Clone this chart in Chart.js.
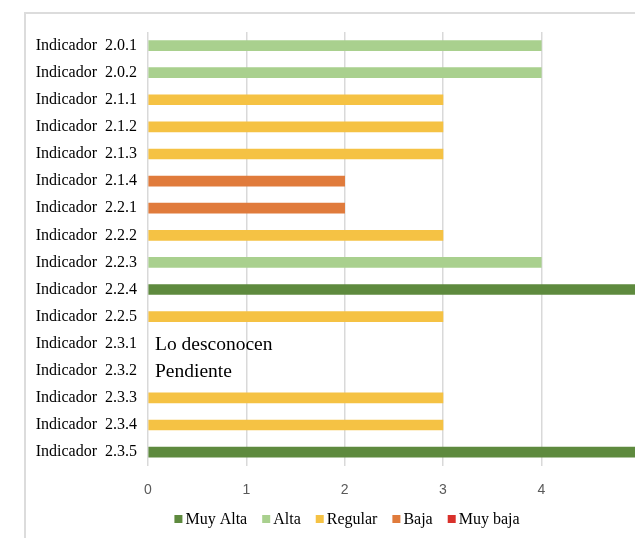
<!DOCTYPE html>
<html>
<head>
<meta charset="utf-8">
<script src="https://cdn.jsdelivr.net/npm/chart.js@4.4.0/dist/chart.umd.min.js"></script>
<style>
    html, body { margin: 0; padding: 0; background: #fff; overflow: hidden; }
    #wrap { position: relative; width: 635px; height: 538px; overflow: hidden; }
    /* marco gris de la tabla original */
    #frame {
        position: absolute; left: 24px; top: 12px; width: 640px; height: 560px;
        border-top: 2px solid #dcdcdc; border-left: 2px solid #dcdcdc;
    }
    #chart { position: absolute; left: 0; top: 0; }
</style>
</head>
<body>
<div id="wrap">
    <div id="frame"></div>
    <canvas id="chart" width="660" height="538"></canvas>
</div>
<script>
// Categorías (indicadores)
const categories = [
    'Indicador  2.0.1', 'Indicador  2.0.2', 'Indicador  2.1.1', 'Indicador  2.1.2',
    'Indicador  2.1.3', 'Indicador  2.1.4', 'Indicador  2.2.1', 'Indicador  2.2.2',
    'Indicador  2.2.3', 'Indicador  2.2.4', 'Indicador  2.2.5', 'Indicador  2.3.1',
    'Indicador  2.3.2', 'Indicador  2.3.3', 'Indicador  2.3.4', 'Indicador  2.3.5'
];

// Valores por nivel (null = sin barra en ese nivel)
const muyAlta  = [null, null, null, null, null, null, null, null, null, 5, null, null, null, null, null, 5];
const alta     = [4, 4, null, null, null, null, null, null, 4, null, null, null, null, null, null, null];
const regular  = [null, null, 3, 3, 3, null, null, 3, null, null, 3, null, null, 3, 3, null];
const baja     = [null, null, null, null, null, 2, 2, null, null, null, null, null, null, null, null, null];
const muyBaja  = [null, null, null, null, null, null, null, null, null, null, null, null, null, null, null, null];

// Etiquetas de eje X
const xTicks = [0, 1, 2, 3, 4, 5];

// Notas de texto sobre indicadores sin valor
const noteCategories = ['Indicador  2.3.1', 'Indicador  2.3.2'];
const noteTexts = ['Lo desconocen', 'Pendiente'];

const serif = '"Liberation Serif", "Times New Roman", serif';

// Plugin para escribir las notas en la fila correspondiente
const notesPlugin = {
    id: 'notes',
    afterDatasetsDraw(chart) {
        const ctx = chart.ctx;
        const x = chart.scales.x;
        const y = chart.scales.y;
        ctx.save();
        ctx.font = '19.5px ' + serif;
        ctx.fillStyle = '#000';
        ctx.textBaseline = 'middle';
        ctx.textAlign = 'left';
        noteCategories.forEach((cat, i) => {
            const idx = categories.indexOf(cat);
            ctx.fillText(noteTexts[i], x.getPixelForValue(0) + 7, y.getPixelForValue(idx) + 1.5);
        });
        ctx.restore();
    }
};

// Leyenda dibujada a mano (cuadro pegado al texto, como en el original)
const legendPlugin = {
    id: 'bottomLegend',
    afterDraw(chart) {
        const ctx = chart.ctx;
        const box = 8, gapText = 3, gapItem = 15;
        const centerX = 347, centerY = 519;
        ctx.save();
        ctx.font = '16px ' + serif;
        ctx.textBaseline = 'middle';
        ctx.textAlign = 'left';
        const sets = chart.data.datasets;
        const widths = sets.map(ds => ctx.measureText(ds.label).width);
        const total = widths.reduce((a, w) => a + box + gapText + w, 0) + gapItem * (sets.length - 1);
        let x = centerX - total / 2;
        sets.forEach((ds, i) => {
            ctx.fillStyle = ds.backgroundColor;
            ctx.fillRect(x, centerY - box / 2, box, box);
            ctx.fillStyle = '#000';
            ctx.fillText(ds.label, x + box + gapText, centerY + 0.5);
            x += box + gapText + widths[i] + gapItem;
        });
        ctx.restore();
    }
};

const makeSet = (label, data, color) => ({
    label: label,
    data: data,
    backgroundColor: color,
    borderColor: color,
    borderWidth: 0,
    barThickness: 10,
});

new Chart(document.getElementById('chart').getContext('2d'), {
    type: 'bar',
    data: {
        labels: categories,
        datasets: [
            makeSet('Muy Alta', muyAlta, '#5e8a3e'),
            makeSet('Alta', alta, '#a9d08e'),
            makeSet('Regular', regular, '#f5c244'),
            makeSet('Baja', baja, '#e07b3c'),
            makeSet('Muy baja', muyBaja, '#d9312b'),
        ]
    },
    options: {
        indexAxis: 'y',
        responsive: false,
        animation: false,
        layout: { padding: { top: 32, right: 17, left: 0, bottom: 22.5 } },
        scales: {
            x: {
                stacked: true,
                min: 0,
                max: 5,
                afterBuildTicks: (scale) => { scale.ticks = xTicks.map(v => ({ value: v })); },
                border: { display: false },
                grid: { color: '#d9d9d9', lineWidth: 1.5, drawTicks: false },
                ticks: {
                    padding: 16.5,
                    color: '#595959',
                    font: { family: '"Liberation Sans", Arial, sans-serif', size: 14 }
                }
            },
            y: {
                stacked: true,
                border: { display: false },
                grid: { display: false, drawTicks: false },
                afterFit: (scale) => { scale.width = 148; },
                ticks: {
                    padding: 11,
                    color: '#000',
                    font: { family: serif, size: 16 }
                }
            }
        },
        plugins: {
            legend: { display: false },
            tooltip: { enabled: false }
        }
    },
    plugins: [notesPlugin, legendPlugin]
});
</script>
</body>
</html>
